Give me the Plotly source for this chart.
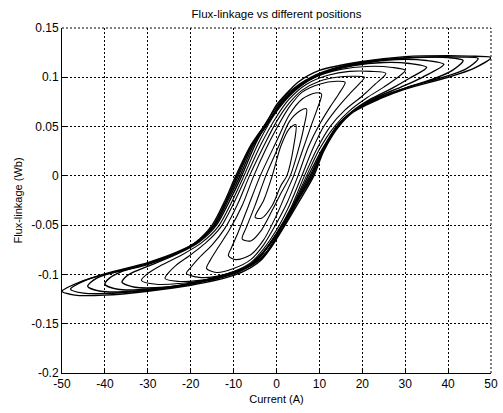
import plotly.graph_objects as go

# Flux-linkage (Wb) against phase current (A): nested hysteresis loops.
# Each loop = descending branch (positive tip -> negative tip) and
# ascending branch (negative tip -> positive tip), as (current, flux) pairs.

LOOP01_DOWN = [(50, 0.120), (45, 0.1215), (40, 0.122), (30, 0.121), (20, 0.116), (10, 0.107), (5, 0.095),
               (2, 0.082), (0, 0.072), (-2.5, 0.053), (-6, 0.031), (-9.5, 0.0), (-12, -0.025), (-15, -0.05),
               (-19, -0.068), (-23, -0.078), (-30, -0.090), (-40, -0.100), (-46, -0.108), (-50, -0.117)]
LOOP01_UP = [(-50, -0.117), (-47, -0.121), (-40, -0.121), (-30, -0.117), (-20, -0.111), (-10, -0.101),
             (-6, -0.093), (-3.5, -0.085), (-1, -0.071), (2, -0.05), (5, -0.028), (8.7, 0.0), (11, 0.025),
             (14.5, 0.05), (18, 0.065), (24, 0.078), (30, 0.088), (40, 0.100), (46, 0.109), (50, 0.120)]

LOOP02_DOWN = [(47, 0.119), (43, 0.1205), (35, 0.1205), (25, 0.118), (15, 0.111), (8, 0.100), (3, 0.085),
               (0, 0.070), (-3, 0.050), (-6.2, 0.028), (-9.2, 0.0), (-11.7, -0.025), (-14.6, -0.05),
               (-18.5, -0.067), (-23, -0.077), (-30, -0.088), (-38, -0.097), (-44, -0.105), (-48, -0.115)]
LOOP02_UP = [(-48, -0.115), (-45, -0.119), (-40, -0.1195), (-30, -0.116), (-20, -0.110), (-10, -0.0995),
             (-6, -0.091), (-3, -0.082), (0, -0.063), (2.5, -0.045), (5, -0.025), (8.4, 0.0), (11, 0.027),
             (14, 0.05), (18, 0.066), (24, 0.079), (30, 0.089), (38, 0.099), (44, 0.108), (47, 0.119)]

LOOP03_DOWN = [(43.5, 0.117), (40, 0.120), (32, 0.120), (22, 0.116), (13, 0.108), (6, 0.094), (1, 0.074),
               (-2.5, 0.050), (-5.8, 0.030), (-8.9, 0.0), (-11.6, -0.025), (-14.6, -0.05), (-18.8, -0.068),
               (-23, -0.078), (-30, -0.089), (-38, -0.098), (-42, -0.104), (-44, -0.112)]
LOOP03_UP = [(-44, -0.112), (-41, -0.117), (-33, -0.117), (-22, -0.111), (-12, -0.100), (-6, -0.091),
             (-2.5, -0.078), (1.5, -0.05), (4.5, -0.028), (8.1, 0.0), (10.8, 0.025), (14.3, 0.05),
             (18, 0.066), (23, 0.078), (30, 0.089), (37, 0.099), (41, 0.107), (43.5, 0.117)]

LOOP04_DOWN = [(39, 0.113), (35, 0.117), (28, 0.118), (20, 0.114), (12, 0.106), (6, 0.093), (1, 0.072),
               (-3, 0.047), (-5.5, 0.030), (-8.5, 0.0), (-11.3, -0.025), (-14.3, -0.05), (-18.5, -0.067),
               (-23, -0.078), (-30, -0.089), (-36, -0.097), (-39, -0.104), (-40, -0.110)]
LOOP04_UP = [(-40, -0.110), (-37, -0.115), (-30, -0.115), (-20, -0.109), (-11, -0.099), (-6, -0.090),
             (-2, -0.072), (2, -0.045), (7.8, 0.0), (10.7, 0.026), (14.2, 0.05), (18, 0.066), (23, 0.079),
             (29, 0.090), (34, 0.100), (39, 0.113)]

LOOP05_DOWN = [(35, 0.110), (31, 0.114), (25, 0.115), (18, 0.112), (11, 0.104), (5, 0.090), (0, 0.067),
               (-4.5, 0.036), (-8.1, 0.0), (-11, -0.026), (-14, -0.05), (-18, -0.067), (-23, -0.079),
               (-29, -0.090), (-33, -0.097), (-35.3, -0.103), (-36, -0.108)]
LOOP05_UP = [(-36, -0.108), (-33, -0.113), (-26, -0.113), (-18, -0.108), (-10, -0.098), (-5, -0.087),
             (-1, -0.066), (3, -0.038), (7.4, 0.0), (10.5, 0.026), (14, 0.05), (17.5, 0.065), (22, 0.078),
             (27, 0.089), (31, 0.099), (35, 0.110)]

LOOP06_DOWN = [(30, 0.107), (27, 0.110), (21, 0.111), (15, 0.108), (9, 0.100), (4, 0.085), (0, 0.065),
               (-4, 0.035), (-7.6, 0.0), (-10.5, -0.027), (-13.5, -0.051), (-17.5, -0.068), (-22, -0.080),
               (-27, -0.091), (-30, -0.099), (-31.5, -0.106)]
LOOP06_UP = [(-31.5, -0.106), (-28, -0.110), (-22, -0.109), (-15, -0.105), (-8, -0.095), (-4, -0.083),
             (-0.5, -0.062), (3.5, -0.033), (7, 0.0), (10, 0.027), (13.5, 0.05), (17, 0.066), (21, 0.079),
             (25, 0.090), (28, 0.099), (30, 0.107)]

LOOP07_DOWN = [(25.5, 0.104), (22, 0.106), (17, 0.106), (12, 0.102), (7, 0.093), (3, 0.078), (0, 0.060),
               (-3.5, 0.033), (-7, 0.0), (-10, -0.028), (-13, -0.052), (-16.5, -0.068), (-20, -0.080),
               (-23.5, -0.091), (-25.3, -0.099), (-26, -0.104)]
LOOP07_UP = [(-26, -0.104), (-23, -0.107), (-18, -0.106), (-12, -0.101), (-7, -0.092), (-3.5, -0.079),
             (0, -0.058), (3.5, -0.031), (6.5, 0.0), (9.5, 0.028), (12.5, 0.05), (16, 0.067), (20, 0.081),
             (23, 0.093), (25.5, 0.104)]

LOOP08_DOWN = [(20.5, 0.100), (18, 0.101), (14, 0.100), (10, 0.096), (6, 0.087), (3, 0.074), (0, 0.055),
               (-3, 0.030), (-6.3, 0.0), (-9, -0.028), (-12, -0.053), (-15, -0.070), (-18, -0.083),
               (-20, -0.093), (-21, -0.099)]
LOOP08_UP = [(-21, -0.099), (-18, -0.103), (-14, -0.102), (-10, -0.097), (-6, -0.088), (-3, -0.074),
             (0, -0.055), (3, -0.030), (5.9, 0.0), (8.5, 0.028), (11, 0.05), (14, 0.068), (17, 0.083),
             (19, 0.092), (20.5, 0.100)]

LOOP09_DOWN = [(16, 0.095), (14, 0.096), (10, 0.093), (6, 0.085), (3, 0.070), (0, 0.048), (-2.5, 0.027),
               (-5.3, 0.0), (-8, -0.030), (-11, -0.055), (-13.5, -0.072), (-15.5, -0.086), (-16.3, -0.094)]
LOOP09_UP = [(-16.3, -0.094), (-14, -0.098), (-10, -0.094), (-6, -0.085), (-3, -0.070), (0, -0.048),
             (2.5, -0.027), (5, 0.0), (7.5, 0.030), (10, 0.052), (12.5, 0.070), (14.5, 0.083), (16, 0.095)]

LOOP10_DOWN = [(10.5, 0.083), (9, 0.084), (6, 0.078), (3, 0.062), (0, 0.035), (-3.8, 0.0), (-6.5, -0.030),
               (-9, -0.058), (-10.5, -0.073), (-11.2, -0.081)]
LOOP10_UP = [(-11.2, -0.081), (-9.5, -0.085), (-6, -0.080), (-3, -0.065), (0, -0.040), (2, -0.020),
             (4, 0.0), (6, 0.025), (8, 0.050), (9.5, 0.068), (10.5, 0.083)]

LOOP11_DOWN = [(7, 0.068), (5.5, 0.066), (3, 0.055), (0.5, 0.030), (-2.5, 0.0), (-5, -0.030),
               (-7, -0.052), (-8, -0.064)]
LOOP11_UP = [(-8, -0.064), (-6, -0.066), (-3.5, -0.055), (-1, -0.035), (1, -0.018), (3.2, 0.0),
             (5, 0.025), (6.3, 0.048), (7, 0.068)]

LOOP12_DOWN = [(4.5, 0.052), (3, 0.048), (1, 0.030), (-1, 0.0), (-3, -0.025), (-5, -0.042)]
LOOP12_UP = [(-5, -0.042), (-3.5, -0.043), (-1, -0.030), (1, -0.010), (2.4, 0.0), (4, 0.030), (4.5, 0.052)]

LOOPS = [
    (LOOP01_DOWN, LOOP01_UP), (LOOP02_DOWN, LOOP02_UP), (LOOP03_DOWN, LOOP03_UP),
    (LOOP04_DOWN, LOOP04_UP), (LOOP05_DOWN, LOOP05_UP), (LOOP06_DOWN, LOOP06_UP),
    (LOOP07_DOWN, LOOP07_UP), (LOOP08_DOWN, LOOP08_UP), (LOOP09_DOWN, LOOP09_UP),
    (LOOP10_DOWN, LOOP10_UP), (LOOP11_DOWN, LOOP11_UP), (LOOP12_DOWN, LOOP12_UP),
]

X_TICKS = [-50, -40, -30, -20, -10, 0, 10, 20, 30, 40, 50]
X_TICK_TEXT = ["-50", "-40", "-30", "-20", "-10", "0", "10", "20", "30", "40", "50"]
Y_TICKS = [-0.2, -0.15, -0.1, -0.05, 0, 0.05, 0.1, 0.15]
Y_TICK_TEXT = ["-0.2", "-0.15", "-0.1", "-0.05", "0", "0.05", "0.1", "0.15"]

fig = go.Figure()
for i, (down, up) in enumerate(LOOPS):
    pts = down + up[1:]
    fig.add_trace(go.Scatter(
        x=[p[0] for p in pts], y=[p[1] for p in pts],
        mode="lines",
        line=dict(color="black", width=1.4 if i < 5 else 1.1, shape="spline", smoothing=0.8),
        showlegend=False, hoverinfo="skip",
    ))

FONT = "Liberation Sans, Arial, sans-serif"
GRID_DASH = "2px,2px"
axis_common = dict(
    showgrid=True, gridcolor="black", gridwidth=1, griddash=GRID_DASH,
    zeroline=False, showline=True, linecolor="black", linewidth=1,
    ticks="inside", ticklen=4, tickcolor="black", ticklabeloverflow="allow",
    tickfont=dict(family=FONT, size=12, color="black"),
)

fig.update_layout(
    width=503, height=413,
    margin=dict(l=62, r=5, t=28, b=40),
    paper_bgcolor="white", plot_bgcolor="white",
    title=dict(text="Flux-linkage vs different positions", x=0.5, xanchor="center",
               xref="paper", y=0.975, yanchor="top",
               font=dict(family=FONT, size=11.5, color="black")),
    xaxis=dict(range=[-50, 50], tickvals=X_TICKS, ticktext=X_TICK_TEXT,
               title=dict(text="Current (A)", font=dict(family=FONT, size=11, color="black"), standoff=4),
               **axis_common),
    yaxis=dict(range=[-0.2, 0.15], tickvals=Y_TICKS, ticktext=Y_TICK_TEXT,
               title=dict(text="Flux-linkage (Wb)", font=dict(family=FONT, size=11, color="black"), standoff=6),
               **axis_common),
)

# Grid lines on the top and right edges of the axes box
fig.add_shape(type="line", xref="paper", yref="paper", x0=0, x1=1, y0=1, y1=1,
              line=dict(color="black", width=1, dash=GRID_DASH))
fig.add_shape(type="line", xref="paper", yref="paper", x0=1, x1=1, y0=0, y1=1,
              line=dict(color="black", width=1, dash=GRID_DASH))

fig.write_html("out.html")
